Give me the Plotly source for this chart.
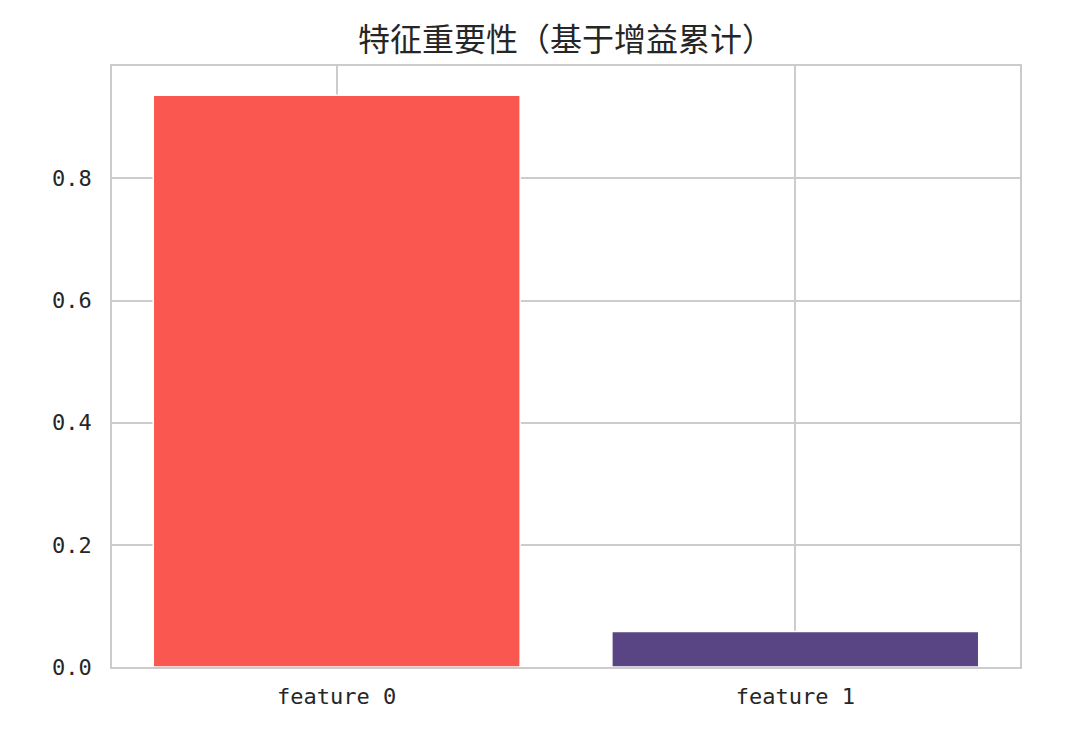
import plotly.graph_objects as go

categories = ["feature 0", "feature 1"]
importance = [0.936, 0.058]
bar_colors = ["#FA5750", "#5A4584"]
y_ticks = [0.0, 0.2, 0.4, 0.6, 0.8]
y_tick_labels = ["0.0", "0.2", "0.4", "0.6", "0.8"]
title_text = "特征重要性（基于增益累计）"

fig = go.Figure(go.Bar(
    x=categories, y=importance,
    marker=dict(color=bar_colors, line=dict(color="white", width=1.5)),
    width=0.8,
))

fig.update_layout(
    width=1080, height=732,
    margin=dict(l=104, r=68, t=58, b=73),
    paper_bgcolor="white", plot_bgcolor="white",
    title=dict(text=title_text, x=0.5, xref="paper", xanchor="center",
               y=0.956, yref="container", yanchor="middle",
               font=dict(family="Noto Sans CJK SC", size=32, color="#262626")),
    font=dict(family="Noto Sans CJK SC", color="#262626"),
    showlegend=False,
)
fig.update_xaxes(
    range=[-0.49, 1.49],
    showgrid=True, gridcolor="#cccccc", gridwidth=1.5,
    showline=True, linecolor="#cccccc", linewidth=1.5, mirror=True,
    ticks="", ticklabelstandoff=9,
    tickfont=dict(family="DejaVu Sans Mono", size=22, color="#262626"),
)
fig.update_yaxes(
    range=[0, 0.984],
    tickvals=y_ticks, ticktext=y_tick_labels,
    showgrid=True, gridcolor="#cccccc", gridwidth=1.5,
    zeroline=False,
    showline=True, linecolor="#cccccc", linewidth=1.5, mirror=True,
    ticks="", ticklabelstandoff=14,
    tickfont=dict(family="DejaVu Sans Mono", size=22, color="#262626"),
)

fig.write_html("out.html")
